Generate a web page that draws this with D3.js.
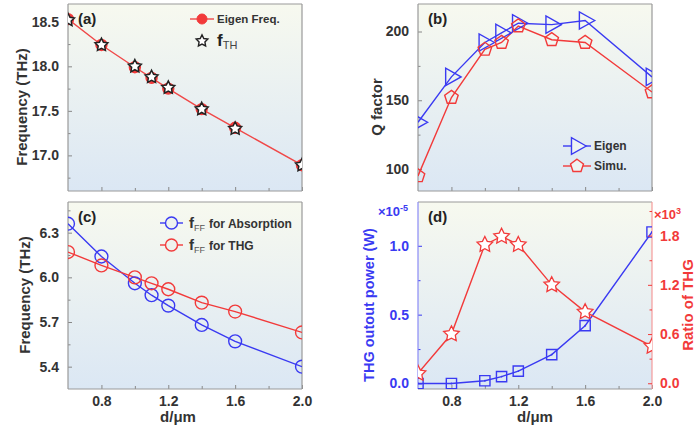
<!DOCTYPE html>
<html><head><meta charset="utf-8">
<script src="https://cdn.jsdelivr.net/npm/d3@7"></script>
<style>body{margin:0;background:#fff}svg{display:block}text{font-family:"Liberation Sans",Arial,sans-serif}</style>
</head><body><svg id="c" width="697" height="430"></svg>
<script>
const thickness = [0.6, 0.8, 1.0, 1.1, 1.2, 1.4, 1.6, 2.0];
const eigenFreq = [18.53, 18.24, 17.99, 17.87, 17.75, 17.52, 17.31, 16.89];
const fTH = [18.52, 18.24, 18.0, 17.88, 17.76, 17.52, 17.30, 16.89];
const qEigen = [134, 167, 192, 199, 206, 205, 208, 167];
const qSimu = [95, 152, 187, 192, 204, 194, 192, 156];
const fAbs = [6.36, 6.14, 5.96, 5.88, 5.81, 5.68, 5.57, 5.40];
const fTHG = [6.17, 6.08, 6.0, 5.96, 5.92, 5.83, 5.77, 5.63];
const thgPower = [0.0, 0.0, 0.02, 0.05, 0.09, 0.21, 0.42, 1.10];
const thgRatio = [0.12, 0.6, 1.69, 1.79, 1.69, 1.2, 0.87, 0.45];
const xTicks = [0.8, 1.2, 1.6, 2.0];
const xMinor = [1.0, 1.4, 1.8];

const BLUE = "#3a3af2", RED = "#f23a3a", TXT = "#333";
const svg = d3.select("#c");
const defs = svg.append("defs");
const gr = defs.append("linearGradient").attr("id","bg").attr("x1",0).attr("y1",0).attr("x2",0).attr("y2",1);
gr.append("stop").attr("offset","0%").attr("stop-color","#f7f9ef");
gr.append("stop").attr("offset","100%").attr("stop-color","#dbe7f4");

function panel(id, x0, x1, y0, y1, yDom, opts) {
  const g = svg.append("g");
  defs.append("clipPath").attr("id","clip"+id).append("rect").attr("x",x0).attr("y",y0).attr("width",x1-x0).attr("height",y1-y0);
  g.append("rect").attr("x",x0).attr("y",y0).attr("width",x1-x0).attr("height",y1-y0).attr("fill","url(#bg)");
  const x = d3.scaleLinear().domain([0.6,2.0]).range([x0,x1]);
  const y = d3.scaleLinear().domain(yDom).range([y1,y0]);
  const ax = g.append("g").attr("transform",`translate(0,${y1})`)
    .call(d3.axisBottom(x).tickValues(xTicks).tickSize(-4).tickPadding(opts.xLabels?7:0).tickFormat(opts.xLabels?d3.format(".1f"):""));
  ax.select(".domain").remove();
  ax.selectAll("line").attr("stroke","#888");
  ax.selectAll("text").attr("fill",TXT).attr("font-size","14px").attr("font-weight","bold");
  const axm = g.append("g").attr("transform",`translate(0,${y1})`)
    .call(d3.axisBottom(x).tickValues(xMinor).tickSize(-3).tickFormat(""));
  axm.select(".domain").remove(); axm.selectAll("line").attr("stroke","#888");
  const ay = g.append("g").attr("transform",`translate(${x0},0)`)
    .call(d3.axisLeft(y).tickValues(opts.yTicks).tickSize(-4).tickPadding(9).tickFormat(opts.yFmt));
  ay.select(".domain").remove();
  ay.selectAll("line").attr("stroke", opts.leftColor||"#888");
  ay.selectAll("text").attr("fill",opts.leftColor||TXT).attr("font-size","14px").attr("font-weight","bold");
  const aym = g.append("g").attr("transform",`translate(${x0},0)`)
    .call(d3.axisLeft(y).tickValues(opts.yMinor).tickSize(-2.5).tickFormat(""));
  aym.select(".domain").remove(); aym.selectAll("line").attr("stroke",opts.leftColor||"#888");
  g.append("line").attr("x1",x0).attr("x2",x1).attr("y1",y0).attr("y2",y0).attr("stroke","#999").attr("stroke-width",1.2);
  g.append("line").attr("x1",x0).attr("x2",x1).attr("y1",y1).attr("y2",y1).attr("stroke","#999").attr("stroke-width",1.2);
  g.append("line").attr("x1",x0).attr("x2",x0).attr("y1",y0).attr("y2",y1).attr("stroke",opts.leftSpine||"#999").attr("stroke-width",1.2);
  g.append("line").attr("x1",x1).attr("x2",x1).attr("y1",y0).attr("y2",y1).attr("stroke",opts.rightSpine||"#999").attr("stroke-width",1.2);
  g.append("text").attr("x",x0+10).attr("y",y0+20).attr("font-size","15px").attr("font-weight","bold").attr("fill","#222").text(opts.letter);
  const data = g.append("g").attr("clip-path",`url(#clip${id})`);
  return {g, x, y, data};
}

function lineSeries(p, ys, color, width, yScale) {
  const ysc = yScale || p.y;
  p.data.append("path").datum(ys).attr("fill","none").attr("stroke",color).attr("stroke-width",width||1.4)
    .attr("d", d3.line().x((v,i)=>p.x(thickness[i])).y(v=>ysc(v)));
}
function markers(p, ys, sym, size, color, fill, yScale, sw) {
  const ysc = yScale || p.y;
  p.data.selectAll(null).data(ys).enter().append("path")
    .attr("transform",(v,i)=>`translate(${p.x(thickness[i])},${ysc(v)})`)
    .attr("d", d3.symbol().type(sym.type).size(size)())
    .attr("fill",fill).attr("stroke",color).attr("stroke-width",sw||1.4);
}
function ytitle(x, y, txt, color, size) {
  svg.append("text").attr("transform",`translate(${x},${y}) rotate(-90)`).attr("text-anchor","middle")
    .attr("font-size",(size||15)+"px").attr("font-weight","bold").attr("fill",color||TXT).text(txt);
}
function xtitle(x, y) {
  svg.append("text").attr("x",x).attr("y",y).attr("text-anchor","middle").attr("font-size","15px").attr("font-weight","bold").attr("fill",TXT).text("d/μm");
}
const pentagon = { draw(ctx, size) { const r = Math.sqrt(size/2.38); for (let k=0;k<5;k++){ const a=-Math.PI/2+k*2*Math.PI/5; const px=r*Math.cos(a), py=r*Math.sin(a); k?ctx.lineTo(px,py):ctx.moveTo(px,py);} ctx.closePath(); } };
const triRight = { draw(ctx, size) { const r = Math.sqrt(size/1.3); ctx.moveTo(r,0); ctx.lineTo(-r*0.6,-r*0.9); ctx.lineTo(-r*0.6,r*0.9); ctx.closePath(); } };
const star = { draw(ctx, size) { const R = Math.sqrt(size/1.2), r = R*0.5; for (let k=0;k<10;k++){ const a=-Math.PI/2+k*Math.PI/5; const rr=k%2?r:R; const px=rr*Math.cos(a), py=rr*Math.sin(a); k?ctx.lineTo(px,py):ctx.moveTo(px,py);} ctx.closePath(); } };

// ---- (a)
const pa = panel("a", 68, 302, 4, 191, [16.6, 18.7], {letter:"(a)", yTicks:[17.0,17.5,18.0,18.5], yMinor:[16.75,17.25,17.75,18.25], yFmt:d3.format(".1f")});
lineSeries(pa, eigenFreq, "#f04848", 1.4);
markers(pa, eigenFreq, {type:d3.symbolCircle}, 95, RED, RED);
markers(pa, fTH, {type:star}, 55, "#222", "#fff", null, 1.5);
ytitle(27, 107, "Frequency (THz)");
svg.append("line").attr("x1",190).attr("x2",214).attr("y1",19).attr("y2",19).attr("stroke","#f04848").attr("stroke-width",1.4);
svg.append("circle").attr("cx",202).attr("cy",19).attr("r",5).attr("fill",RED).attr("stroke",RED);
svg.append("text").attr("x",217).attr("y",23).attr("font-size","11.5px").attr("font-weight","bold").attr("fill",TXT).text("Eigen Freq.");
svg.append("path").attr("transform","translate(202,41)").attr("d",d3.symbol().type(star).size(45)()).attr("fill","#fff").attr("stroke","#222").attr("stroke-width",1.4);
const fth = svg.append("text").attr("x",217).attr("y",46).attr("fill","#222");
fth.append("tspan").attr("font-size","17px").attr("font-weight","bold").text("f");
fth.append("tspan").attr("font-size","11px").attr("dy",3).attr("fill","#444").text("TH");

// ---- (b)
const pb = panel("b", 418, 652, 4, 191, [84, 220], {letter:"(b)", yTicks:[100,150,200], yMinor:[125,175], yFmt:d3.format("d")});
lineSeries(pb, qEigen, BLUE, 1.4);
lineSeries(pb, qSimu, RED, 1.4);
markers(pb, qEigen, {type:triRight}, 120, BLUE, "none");
markers(pb, qSimu, {type:pentagon}, 120, RED, "none");
ytitle(382, 107, "Q factor");
[[146, BLUE, triRight, "Eigen"], [166, RED, pentagon, "Simu."]].forEach(([yy,c,s,t])=>{
  svg.append("line").attr("x1",563).attr("x2",591).attr("y1",yy).attr("y2",yy).attr("stroke",c).attr("stroke-width",1.4);
  svg.append("path").attr("transform",`translate(577,${yy})`).attr("d",d3.symbol().type(s).size(110)()).attr("fill","#eef3f2").attr("stroke",c).attr("stroke-width",1.4);
  svg.append("text").attr("x",594).attr("y",yy+4).attr("font-size","12px").attr("font-weight","bold").attr("fill",TXT).text(t);
});

// ---- (c)
const pc = panel("c", 68, 302, 202, 389, [5.25, 6.506], {letter:"(c)", xLabels:true, yTicks:[5.4,5.7,6.0,6.3], yMinor:[5.55,5.85,6.15,6.45], yFmt:d3.format(".1f")});
lineSeries(pc, fAbs, BLUE, 1.4);
lineSeries(pc, fTHG, RED, 1.4);
markers(pc, fAbs, {type:d3.symbolCircle}, 130, BLUE, "none");
markers(pc, fTHG, {type:d3.symbolCircle}, 130, RED, "none");
ytitle(30, 295, "Frequency (THz)");
xtitle(178, 422);
[[223, BLUE, "for Absorption"], [245, RED, "for THG"]].forEach(([yy,c,t])=>{
  svg.append("line").attr("x1",160).attr("x2",183).attr("y1",yy).attr("y2",yy).attr("stroke",c).attr("stroke-width",1.4);
  svg.append("circle").attr("cx",171.5).attr("cy",yy).attr("r",6).attr("fill","#eef3ee").attr("stroke",c).attr("stroke-width",1.4);
  const tx = svg.append("text").attr("x",189).attr("y",yy+5).attr("fill",TXT).attr("font-weight","bold");
  tx.append("tspan").attr("font-size","15px").text("f");
  tx.append("tspan").attr("font-size","9px").attr("dy",3).attr("font-weight","normal").attr("fill","#555").text("FF");
  tx.append("tspan").attr("font-size","12px").attr("dy",-3).attr("dx",4).text(t);
});

// ---- (d)
const pd = panel("d", 418, 652, 202, 389, [-0.04, 1.318], {letter:"(d)", xLabels:true, yTicks:[0.0,0.5,1.0], yMinor:[0.25,0.75], yFmt:d3.format(".1f"), leftColor:BLUE, leftSpine:"#8a8af5", rightSpine:"#f59a9a"});
const yR = d3.scaleLinear().domain([-0.07, 2.21]).range([389, 202]);
const ar = pd.g.append("g").attr("transform","translate(652,0)")
  .call(d3.axisRight(yR).tickValues([0.0,0.6,1.2,1.8]).tickSize(-4).tickPadding(8).tickFormat(d3.format(".1f")));
ar.select(".domain").remove();
ar.selectAll("line").attr("stroke",RED);
ar.selectAll("text").attr("fill",RED).attr("font-size","14px").attr("font-weight","bold");
const arm = pd.g.append("g").attr("transform","translate(652,0)").call(d3.axisRight(yR).tickValues([0.3,0.9,1.5,2.1]).tickSize(-2.5).tickFormat(""));
arm.select(".domain").remove(); arm.selectAll("line").attr("stroke",RED);
lineSeries(pd, thgPower, BLUE, 1.4);
lineSeries(pd, thgRatio, RED, 1.4, yR);
markers(pd, thgPower, {type:d3.symbolSquare}, 105, BLUE, "none");
pd.data.selectAll(null).data(thgPower).enter().append("circle").attr("cx",(v,i)=>pd.x(thickness[i])).attr("cy",v=>pd.y(v)).attr("r",0.9).attr("fill",BLUE);
markers(pd, thgRatio, {type:star}, 80, RED, "#fff", yR, 1.3);
ytitle(374, 305, "THG outout power (W)", BLUE, 14.5);
ytitle(693, 305, "Ratio of THG", RED, 15);
xtitle(535, 422);
const e5 = svg.append("text").attr("x",378).attr("y",216).attr("fill",BLUE).attr("font-weight","bold");
e5.append("tspan").attr("font-size","13px").text("×10");
e5.append("tspan").attr("font-size","9px").attr("dy",-5).text("-5");
const e3 = svg.append("text").attr("x",654).attr("y",219).attr("fill",RED).attr("font-weight","bold");
e3.append("tspan").attr("font-size","13px").text("×10");
e3.append("tspan").attr("font-size","9px").attr("dy",-5).text("3");
</script></body></html>
